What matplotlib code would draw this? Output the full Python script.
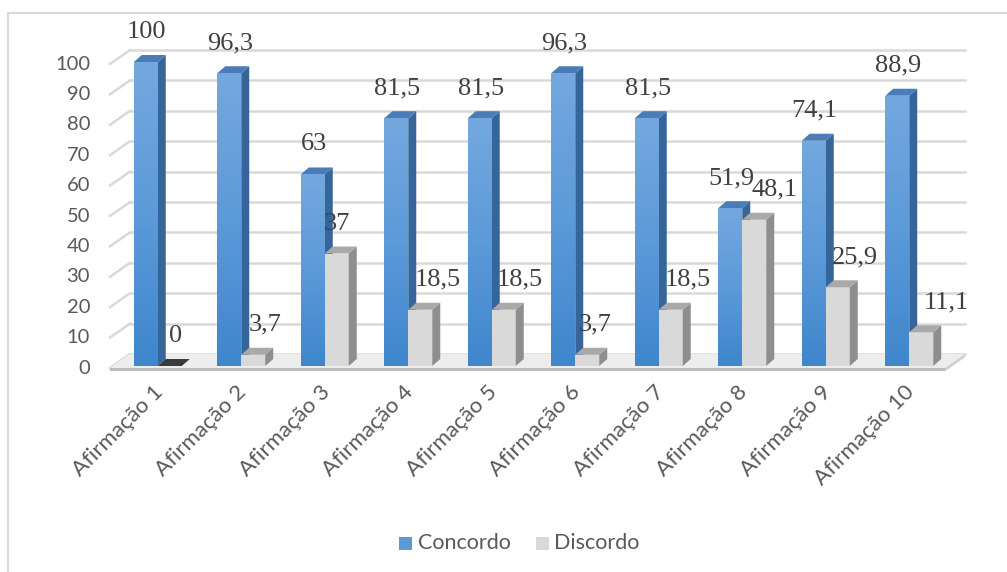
import numpy as np
import matplotlib
matplotlib.use("Agg")
import matplotlib.pyplot as plt
from matplotlib.patches import Polygon, Rectangle
from matplotlib.lines import Line2D
from matplotlib.colors import LinearSegmentedColormap

categories = ["Afirmação %d" % i for i in range(1, 11)]
concordo = [100, 96.3, 63, 81.5, 81.5, 96.3, 81.5, 51.9, 74.1, 88.9]
discordo = [0, 3.7, 37, 18.5, 18.5, 3.7, 18.5, 48.1, 25.9, 11.1]
concordo_lbl = ["100", "96,3", "63", "81,5", "81,5", "96,3", "81,5", "51,9", "74,1", "88,9"]
discordo_lbl = ["0", "3,7", "37", "18,5", "18,5", "3,7", "18,5", "48,1", "25,9", "11,1"]
yticks = list(range(0, 101, 10))

W, H = 1007, 572
fig = plt.figure(figsize=(W / 100, H / 100), dpi=100)
fig.patch.set_facecolor("white")

# front plane of the plot area in pixels
L, R, T, B = 110, 945, 64, 368
ax = fig.add_axes([L / W, 1 - B / H, (R - L) / W, (B - T) / H])
ax.set_xlim(-0.5, 9.5)
ax.set_ylim(0, 100)
ax.axis("off")

ux = 10 / (R - L)      # data units per pixel (x)
uy = 100 / (B - T)     # data units per pixel (y)

# depth of the back wall and of the bars
DX, DY = 20 * ux, 14 * uy
dxb, dyb = 8 * ux, 7 * uy
shift = 6 * ux
bw = 24 * ux
b0 = 2 * uy

grid_c = "#d9d9d9"
# floor
floor = Polygon([(-0.5, 0), (-0.5 + DX, DY), (9.5 + DX, DY), (9.5, 0)],
                closed=True, fc="#ededed", ec="none", zorder=1, clip_on=False)
ax.add_patch(floor)
ax.add_patch(Polygon([(-0.5, 0), (9.5, 0), (9.5, -1.1), (-0.5, -1.1)],
                     fc="#bcbcbc", ec="none", zorder=1, clip_on=False))
ax.add_patch(Polygon([(9.5, 0), (9.5 + DX, DY), (9.5 + DX, DY - 1.1), (9.5, -1.1)],
                     fc="#d0d0d0", ec="none", zorder=1, clip_on=False))

# gridlines on the back wall and left wall
for v in yticks:
    ax.add_line(Line2D([-0.5 + DX, 9.5 + DX], [v + DY, v + DY], color=grid_c,
                       lw=1.8, zorder=0.5, clip_on=False))
    ax.add_line(Line2D([-0.5, -0.5 + DX], [v, v + DY], color=grid_c,
                       lw=1.8, zorder=0.5, clip_on=False))
    ax.text(-0.5 - 20 * ux, v, str(v), ha="right", va="center",
            fontsize=14.5, color="#595959", family="Lato")

blue_cmap = LinearSegmentedColormap.from_list("b", ["#3f86cc", "#5c9ad9", "#74a8df"])
grad = np.linspace(0, 1, 256).reshape(-1, 1)


def draw_bar(x0, val, front, side, top, gradient=False, z=2):
    x1 = x0 + bw
    t = b0 + val
    rect = Rectangle((x0, b0), bw, val, fc=front, ec="none", zorder=z, clip_on=False)
    ax.add_patch(rect)
    if gradient and val > 0:
        im = ax.imshow(grad, extent=[x0, x1, b0, t], origin="lower", aspect="auto",
                       cmap=blue_cmap, zorder=z + 0.01)
        im.set_clip_path(rect)
        im.set_clip_on(True)
    ax.add_patch(Polygon([(x1, b0), (x1 + dxb, b0 + dyb), (x1 + dxb, t + dyb), (x1, t)],
                         fc=side, ec="none", zorder=z, clip_on=False))
    ax.add_patch(Polygon([(x0, t), (x0 + dxb, t + dyb), (x1 + dxb, t + dyb), (x1, t)],
                         fc=top, ec="none", zorder=z, clip_on=False))


dlab_dx = [6, 12, 0, 17, 16, 8, 17, 20, 17, 25]
lab_kw = dict(ha="center", va="center", fontsize=19, color="#404040",
              family="Liberation Serif", zorder=10)
for i in range(len(categories)):
    c = i + shift
    draw_bar(c - bw, concordo[i], "#5b9bd5", "#36659a", "#4a7db8", gradient=True, z=2 + i * 0.1)
    top_c = "#3a3a3a" if discordo[i] == 0 else "#a9a9a9"
    draw_bar(c, discordo[i], "#d9d9d9", "#8e8e8e", top_c, z=2.05 + i * 0.1)
    ax.text(c - bw / 2 + 1 * ux, b0 + concordo[i] + 30 * uy, concordo_lbl[i], **lab_kw)
    ax.text(c + bw / 2 + dlab_dx[i] * ux, b0 + discordo[i] + 30 * uy, discordo_lbl[i], **lab_kw)
    ax.text(c + 2 * ux, -21 * uy, categories[i], rotation=45, rotation_mode="anchor",
            ha="right", va="center", fontsize=16, color="#595959", family="Lato")

ax.set_xlim(-0.5, 9.5)
ax.set_ylim(0, 100)

# legend
fig.patches.append(Rectangle((399 / W, 1 - 550 / H), 13 / W, 13 / H, fc="#5b9bd5",
                             ec="none", transform=fig.transFigure, figure=fig))
fig.text(418 / W, 1 - 543 / H, "Concordo", ha="left", va="center", fontsize=15.5,
         color="#595959", family="Lato")
fig.patches.append(Rectangle((536 / W, 1 - 550 / H), 13 / W, 13 / H, fc="#d9d9d9",
                             ec="none", transform=fig.transFigure, figure=fig))
fig.text(554 / W, 1 - 543 / H, "Discordo", ha="left", va="center", fontsize=15.5,
         color="#595959", family="Lato")

# chart area border
fig.add_artist(Line2D([8 / W, 1], [1 - 13 / H, 1 - 13 / H], color="#d9d9d9", lw=1.5,
                      transform=fig.transFigure))
fig.add_artist(Line2D([8 / W, 8 / W], [0, 1 - 13 / H], color="#d9d9d9", lw=1.5,
                      transform=fig.transFigure))

fig.savefig("out.png", dpi=100, facecolor="white")
